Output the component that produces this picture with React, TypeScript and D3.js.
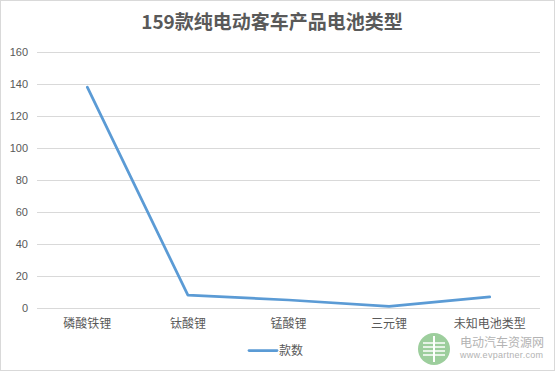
import { useEffect, useRef } from "react";
import * as d3 from "d3";

const categories = ["磷酸铁锂", "钛酸锂", "锰酸锂", "三元锂", "未知电池类型"];
const counts = [138, 8, 5, 1, 7];
const yTicks = [0, 20, 40, 60, 80, 100, 120, 140, 160];
const seriesName = "款数";
const title = "159款纯电动客车产品电池类型";

export default function App() {
  const ref = useRef<SVGSVGElement | null>(null);
  const width = 555;
  const height = 371;

  useEffect(() => {
    if (!ref.current) return;
    const svg = d3.select(ref.current);
    svg.selectAll("*").remove();

    const margin = { top: 52, right: 15, bottom: 63, left: 37 };
    const w = width - margin.left - margin.right;
    const h = height - margin.top - margin.bottom;
    const font = "'Liberation Sans', 'Noto Sans CJK SC', sans-serif";

    svg.append("rect")
      .attr("x", 0.5).attr("y", 0.5)
      .attr("width", width - 1).attr("height", height - 1)
      .attr("fill", "#fff").attr("stroke", "#d9d9d9");

    svg.append("text")
      .attr("x", 272).attr("y", 29)
      .attr("text-anchor", "middle")
      .attr("font-family", "'Noto Sans CJK SC', sans-serif")
      .attr("font-weight", "bold")
      .attr("font-size", 19)
      .attr("fill", "#595959")
      .text(title);

    const x = d3.scaleBand<string>().domain(categories).range([0, w]);
    const y = d3.scaleLinear().domain([0, 160]).range([h, 0]);

    const g = svg.append("g").attr("transform", `translate(${margin.left},${margin.top})`);

    g.append("g")
      .selectAll("line")
      .data(yTicks)
      .join("line")
      .attr("x1", 0).attr("x2", w)
      .attr("y1", d => Math.round(y(d)) + 0.5)
      .attr("y2", d => Math.round(y(d)) + 0.5)
      .attr("stroke", "#d9d9d9");

    g.append("g")
      .selectAll("text")
      .data(yTicks)
      .join("text")
      .attr("x", -9)
      .attr("y", d => y(d))
      .attr("dy", "0.35em")
      .attr("text-anchor", "end")
      .attr("font-family", font)
      .attr("font-size", 11)
      .attr("fill", "#595959")
      .text(d => d);

    g.append("g")
      .selectAll("text")
      .data(categories)
      .join("text")
      .attr("x", d => x(d)! + x.bandwidth() / 2)
      .attr("y", h + 16)
      .attr("dy", "0.35em")
      .attr("text-anchor", "middle")
      .attr("font-family", "'Noto Sans CJK SC', sans-serif")
      .attr("font-size", 12)
      .attr("fill", "#595959")
      .text(d => d);

    const line = d3.line<number>()
      .x((_, i) => x(categories[i])! + x.bandwidth() / 2)
      .y(d => y(d));
    g.append("path")
      .datum(counts)
      .attr("fill", "none")
      .attr("stroke", "#5b9bd5")
      .attr("stroke-width", 2.75)
      .attr("stroke-linejoin", "round")
      .attr("stroke-linecap", "round")
      .attr("d", line as any);

    // legend
    svg.append("line")
      .attr("x1", 249).attr("x2", 277)
      .attr("y1", 350.5).attr("y2", 350.5)
      .attr("stroke", "#5b9bd5").attr("stroke-width", 2.75)
      .attr("stroke-linecap", "round");
    svg.append("text")
      .attr("x", 279).attr("y", 351)
      .attr("dy", "0.35em")
      .attr("font-family", "'Noto Sans CJK SC', sans-serif")
      .attr("font-size", 12)
      .attr("fill", "#595959")
      .text(seriesName);

    // watermark
    const wm = svg.append("g").attr("opacity", 0.85);
    wm.append("circle").attr("cx", 434).attr("cy", 349).attr("r", 16).attr("fill", "#8cc68c");
    [-6, -2, 2, 6].forEach(dy => {
      wm.append("line")
        .attr("x1", 423).attr("x2", 445)
        .attr("y1", 349 + dy).attr("y2", 349 + dy)
        .attr("stroke", "#fff").attr("stroke-width", 1.5);
    });
    wm.append("line")
      .attr("x1", 434).attr("x2", 434)
      .attr("y1", 336).attr("y2", 362)
      .attr("stroke", "#fff").attr("stroke-width", 2);
    wm.append("text")
      .attr("x", 460).attr("y", 343)
      .attr("dy", "0.35em")
      .attr("font-family", "'Noto Sans CJK SC', sans-serif")
      .attr("font-size", 12)
      .attr("fill", "#a6a6a6")
      .text("电动汽车资源网");
    wm.append("text")
      .attr("x", 460).attr("y", 355)
      .attr("dy", "0.35em")
      .attr("font-family", font)
      .attr("font-size", 9)
      .attr("fill", "#a6a6a6")
      .attr("textLength", 83)
      .text("www.evpartner.com");
  }, []);

  return (
    <div style={{ position: "absolute", left: 0, top: 0 }}>
      <svg ref={ref} width={width} height={height} style={{ display: "block" }} />
    </div>
  );
}
